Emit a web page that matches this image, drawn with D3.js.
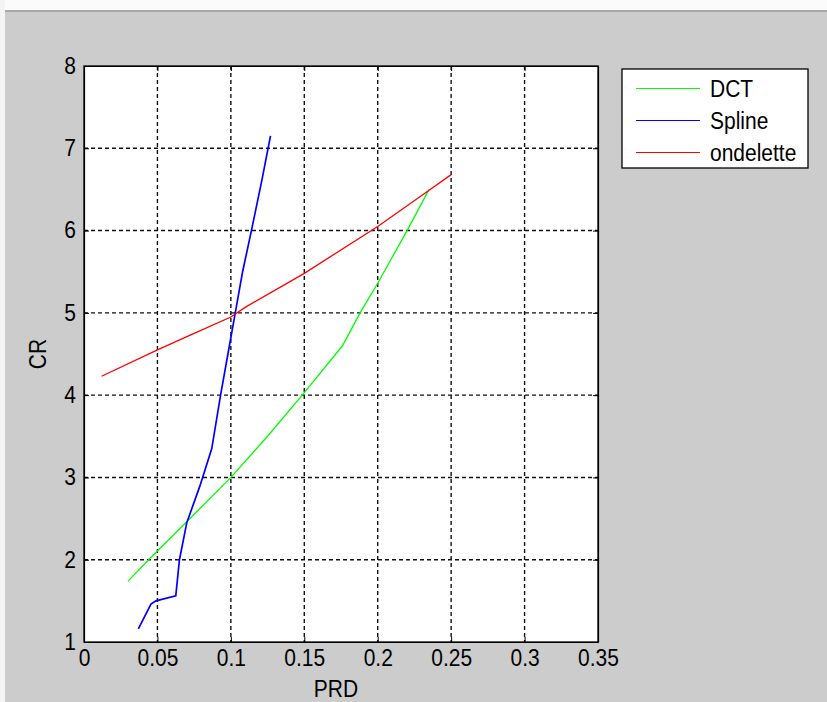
<!DOCTYPE html>
<html lang="en">
<head>
<meta charset="utf-8" />
<title>CR vs PRD</title>
<style>
  body { margin: 0; background: #cccccc; }
  svg { display: block; }
  text { font-family: "Liberation Sans", Arial, sans-serif; fill: #000; }
</style>
<script src="https://d3js.org/d3.v7.min.js"></script>
</head>
<body>
<svg width="827" height="702"></svg>
<script>
// series: [PRD, CR]
var dct = [[0.030,1.74],[0.044,2.0],[0.071,2.48],[0.1,3.0],[0.125,3.5],[0.15,4.03],
           [0.176,4.6],[0.188,5.0],[0.2,5.36],[0.22,6.0],[0.235,6.5]];
var spline = [[0.037,1.16],[0.0456,1.46],[0.049,1.5],[0.0625,1.56],[0.065,2.0],[0.07,2.45],
              [0.079,2.9],[0.087,3.35],[0.093,4.0],[0.098,4.5],[0.103,5.0],[0.108,5.5],
              [0.114,6.0],[0.121,6.6],[0.127,7.15]];
var ondelette = [[0.012,4.23],[0.05,4.55],[0.075,4.75],[0.1,4.95],[0.11,5.07],[0.15,5.48],
                 [0.2,6.05],[0.235,6.49],[0.25,6.68]];
var seriesNames = ["DCT", "Spline", "ondelette"];
var seriesColors = ["#00ff00", "#0000ff", "#ff0000"];
var xTicks = [0, 0.05, 0.1, 0.15, 0.2, 0.25, 0.3, 0.35];
var yTicks = [1, 2, 3, 4, 5, 6, 7, 8];

var svg = d3.select("svg");
var pL = 84, pR = 598, pT = 66, pB = 642;
var fs = 21, stretch = 1.1;   // text looks a bit taller than wide

// window strip at the top
svg.append("rect").attr("x", 0).attr("y", 0).attr("width", 827).attr("height", 10).attr("fill", "#fbfbfb");
svg.append("rect").attr("x", 0).attr("y", 10).attr("width", 827).attr("height", 2).attr("fill", "#a8a8a8");
svg.append("rect").attr("x", 0).attr("y", 0).attr("width", 5).attr("height", 702).attr("fill", "#f4f4f4");

var x = d3.scaleLinear().domain([0, 0.35]).range([pL, pR]);
var y = d3.scaleLinear().domain([1, 8]).range([pB, pT]);

svg.append("rect")
   .attr("x", pL).attr("y", pT)
   .attr("width", pR - pL).attr("height", pB - pT)
   .attr("fill", "#fff");

// dashed grid
var grid = svg.append("g").attr("stroke", "#111").attr("stroke-width", 1.4).attr("stroke-dasharray", "4,3");
grid.selectAll(".gx").data(xTicks.slice(1, -1)).enter().append("line")
    .attr("x1", function(d) { return x(d); }).attr("x2", function(d) { return x(d); })
    .attr("y1", pT).attr("y2", pB);
grid.selectAll(".gy").data(yTicks.slice(1, -1)).enter().append("line")
    .attr("y1", function(d) { return y(d); }).attr("y2", function(d) { return y(d); })
    .attr("x1", pL).attr("x2", pR);

// series
var line = d3.line().x(function(d) { return x(d[0]); }).y(function(d) { return y(d[1]); });
[dct, spline, ondelette].forEach(function(s, i) {
  svg.append("path").datum(s)
     .attr("d", line)
     .attr("fill", "none")
     .attr("stroke", seriesColors[i])
     .attr("stroke-width", i == 1 ? 1.7 : 1.3);
});

// axes (ticks inward)
var fmt = function(d) { return d3.format("~g")(d); };
var xAx = svg.append("g").attr("transform", "translate(0," + pB + ")")
   .call(d3.axisBottom(x).tickValues(xTicks).tickSizeInner(-5).tickSizeOuter(0).tickPadding(8).tickFormat(fmt));
svg.append("g").attr("transform", "translate(0," + pT + ")")
   .call(d3.axisTop(x).tickValues(xTicks).tickSizeInner(-5).tickSizeOuter(0).tickFormat(""));
var yAx = svg.append("g").attr("transform", "translate(" + pL + ",0)")
   .call(d3.axisLeft(y).tickValues(yTicks).tickSizeInner(-5).tickSizeOuter(0).tickPadding(8).tickFormat(fmt));
svg.append("g").attr("transform", "translate(" + pR + ",0)")
   .call(d3.axisRight(y).tickValues(yTicks).tickSizeInner(-5).tickSizeOuter(0).tickFormat(""));
svg.selectAll(".tick text").attr("font-size", fs).attr("fill", "#000")
   .attr("font-family", "Liberation Sans, Arial, sans-serif")
   .attr("transform", "scale(1," + stretch + ")");
xAx.selectAll(".tick text").attr("y", 8 / stretch);
svg.selectAll(".domain").attr("stroke", "#000").attr("stroke-width", 1.2);
svg.selectAll(".tick line").attr("stroke", "#000");

svg.append("rect")
   .attr("x", pL).attr("y", pT)
   .attr("width", pR - pL).attr("height", pB - pT)
   .attr("fill", "none").attr("stroke", "#000").attr("stroke-width", 1.3);

// axis titles
svg.append("text").attr("transform", "translate(336,697) scale(1," + stretch + ")")
   .attr("text-anchor", "middle").attr("font-size", fs).text("PRD");
svg.append("text").attr("transform", "translate(46,354) rotate(-90) scale(1," + stretch + ")")
   .attr("text-anchor", "middle").attr("font-size", fs).text("CR");

// legend
var lg = svg.append("g").attr("transform", "translate(622,69)");
lg.append("rect").attr("width", 186).attr("height", 99).attr("fill", "#fff")
  .attr("stroke", "#000").attr("stroke-width", 1.3);
seriesNames.forEach(function(n, i) {
  var yy = 19.5 + i * 32;
  lg.append("line").attr("x1", 14).attr("x2", 78).attr("y1", yy).attr("y2", yy)
    .attr("stroke", seriesColors[i]).attr("stroke-width", 1).attr("shape-rendering", "crispEdges");
  lg.append("text").attr("transform", "translate(88," + (yy + 8) + ") scale(1," + stretch + ")")
    .attr("font-size", fs).text(n);
});
</script>
</body>
</html>
